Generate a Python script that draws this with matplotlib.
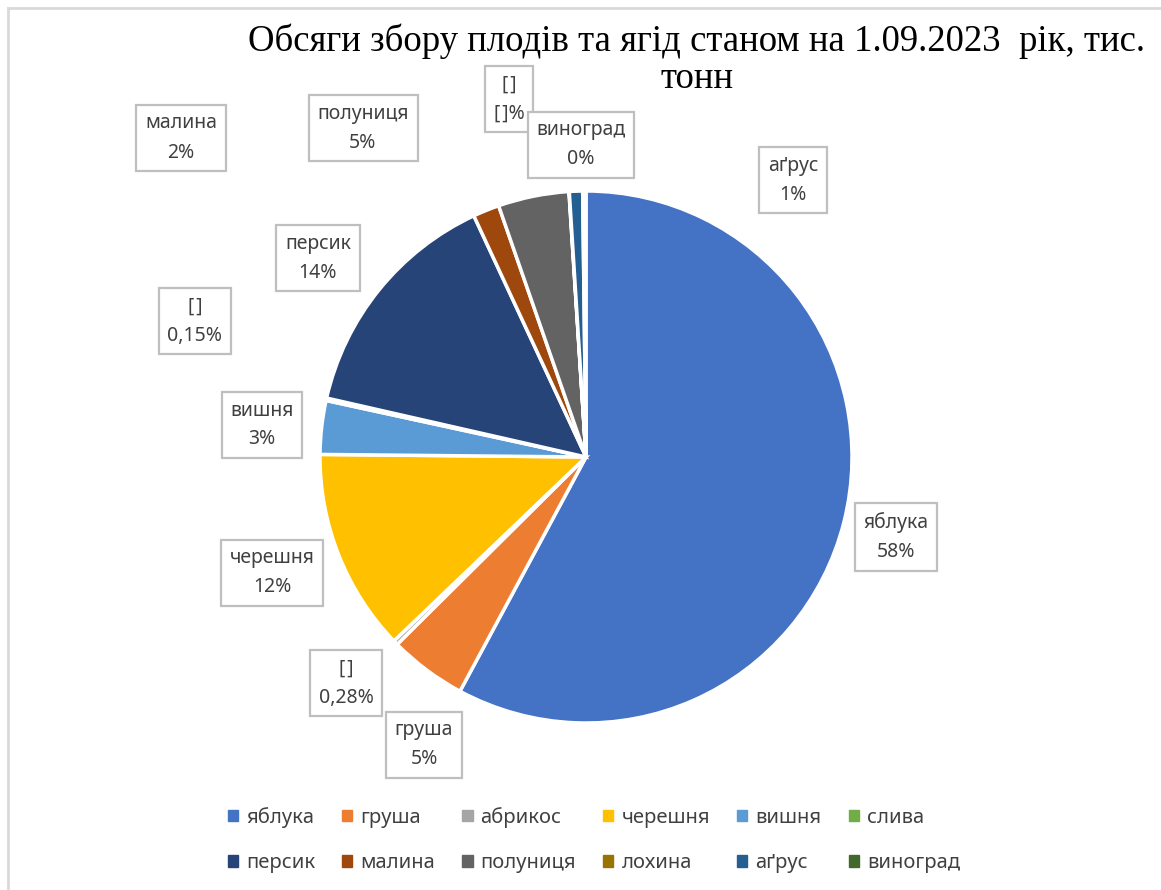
"""
Pie chart of fruit and berry harvest volumes as of 1.09.2023.
"""

import matplotlib
matplotlib.use("Agg")
import matplotlib.pyplot as plt
from matplotlib.patches import Patch
from matplotlib.lines import Line2D

# Data (shares, %)
fruits = ["яблука", "груша", "абрикос", "черешня", "вишня", "слива",
          "персик", "малина", "полуниця", "лохина", "аґрус", "виноград"]
shares = [57.8, 4.7, 0.28, 12.3, 3.25, 0.15, 14.5, 1.6, 4.3, 0.02, 0.8, 0.2]
# empty-name placeholders "[]" (hair space keeps the brackets apart)
label_texts = ["яблука\n58%", "груша\n5%", "[\u200a]\n0,28%", "черешня\n12%",
               "вишня\n3%", "[\u200a]\n0,15%", "персик\n14%", "малина\n2%",
               "полуниця\n5%", "[\u200a]\n[\u200a]%", "аґрус\n1%", "виноград\n0%"]
colors = ["#4472C4", "#ED7D31", "#A5A5A5", "#FFC000", "#5B9BD5", "#70AD47",
          "#264478", "#9E480E", "#636363", "#997300", "#255E91", "#43682B"]

# Label box centres in pixels (x, y from top), placed like the original
label_px = [(896, 537), (424, 745), (346, 683), (272, 573), (262, 425),
            (195, 321), (318, 258), (181, 138), (363, 128), (509, 99),
            (793, 180), (581, 145)]

W, H = 1161, 890
cx, cy, R = 586, 457, 266

fig = plt.figure(figsize=(W / 100, H / 100), dpi=100)
ax = fig.add_axes([(cx - R) / W, (H - cy - R) / H, 2 * R / W, 2 * R / H])

ax.pie(shares, colors=colors, startangle=90, counterclock=False,
       wedgeprops=dict(edgecolor="white", linewidth=2.5))
ax.set_xlim(-1, 1)
ax.set_ylim(-1, 1)
ax.set_aspect("equal")
ax.axis("off")

# Data labels
label_font = ["Noto Sans", "DejaVu Sans"]
for txt, (px, py) in zip(label_texts, label_px):
    ax.text((px - cx) / R, (cy - py) / R, txt, ha="center", va="center",
            fontsize=14, color="#404040", family=label_font,
            linespacing=1.6, clip_on=False,
            bbox=dict(boxstyle="square,pad=0.45", facecolor="white",
                      edgecolor="#BFBFBF", linewidth=1.6))

# Title
fig.text(697 / W, 1 - 60 / H,
         "Обсяги збору плодів та ягід станом на 1.09.2023  рік, тис.\nтонн",
         ha="center", va="center", fontsize=26.5, family="Liberation Serif",
         linespacing=1.1, multialignment="center")

# Chart frame (top and left edges visible)
fig.add_artist(Line2D([8 / W, 1], [1 - 8 / H, 1 - 8 / H],
                      transform=fig.transFigure, color="#D9D9D9", lw=2))
fig.add_artist(Line2D([8 / W, 8 / W], [0, 1 - 8 / H],
                      transform=fig.transFigure, color="#D9D9D9", lw=2))

# Legend: two rows of six, filled row by row
handles = [Patch(facecolor=c, edgecolor=c) for c in colors]
order = []
for i in range(6):
    order += [i, i + 6]
fig.legend([handles[i] for i in order], [fruits[i] for i in order],
           loc="center", bbox_to_anchor=(594 / W, 1 - 840 / H), ncol=6,
           frameon=False, handlelength=0.5, handleheight=0.5,
           handletextpad=0.4, columnspacing=1.35, labelspacing=1.25,
           prop=dict(family=label_font, size=14.5), labelcolor="#404040")

fig.savefig("out.png", dpi=100, facecolor="white")
